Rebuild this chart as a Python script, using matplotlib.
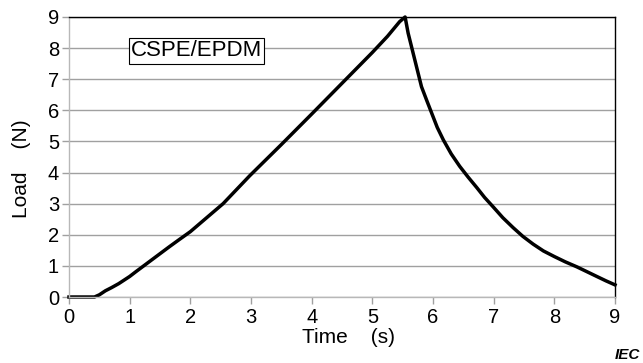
import matplotlib.pyplot as plt

plt.rcParams['font.family'] = ['Liberation Sans', 'DejaVu Sans']

# (rise, peak, relaxation)
time_s = [0.0, 0.2, 0.42, 0.5, 0.6, 0.7, 0.82, 1.0, 1.1, 1.32, 1.65, 1.82,
          2.0, 2.27, 2.54, 2.76, 2.98, 3.5, 4.0, 4.5, 5.0, 5.25, 5.45, 5.54,
          5.59, 5.7, 5.81, 5.9, 5.98, 6.07, 6.17, 6.3, 6.44, 6.58, 6.72,
          6.85, 6.99, 7.15, 7.32, 7.48, 7.65, 7.82, 8.0, 8.18, 8.37, 8.53,
          8.7, 8.85, 9.0]
load_n = [0.0, 0.0, 0.0, 0.07, 0.2, 0.3, 0.43, 0.66, 0.81, 1.13, 1.61, 1.85,
          2.1, 2.55, 3.0, 3.45, 3.9, 4.9, 5.88, 6.87, 7.86, 8.38, 8.85, 9.0,
          8.48, 7.62, 6.76, 6.3, 5.9, 5.45, 5.05, 4.6, 4.2, 3.85, 3.52,
          3.2, 2.9, 2.55, 2.23, 1.95, 1.7, 1.48, 1.3, 1.13, 0.97, 0.82,
          0.66, 0.52, 0.39]

fig = plt.figure(figsize=(6.43, 3.63), dpi=100)
ax = fig.add_axes([0.1073, 0.1818, 0.8492, 0.7714])

ax.plot(time_s, load_n, color="black", linewidth=2.5, solid_joinstyle="round",
        clip_on=False)

ax.set_xlim(0, 9)
ax.set_ylim(0, 9)
ax.set_xticks(range(10))
ax.set_yticks(range(10))
ax.yaxis.grid(True, color="#a0a0a0", linewidth=1.0)
ax.set_axisbelow(True)

for side in ["left", "bottom"]:
    ax.spines[side].set_color("#b8b8b8")
    ax.spines[side].set_linewidth(1.0)
for side in ["top", "right"]:
    ax.spines[side].set_color("black")
    ax.spines[side].set_linewidth(1.0)

ax.tick_params(axis="both", labelsize=14.5, color="#a0a0a0", length=5, width=1.0)
ax.tick_params(axis="x", pad=3)
ax.tick_params(axis="y", pad=2.2)

ax.set_xlabel("Time    (s)", fontsize=15)
ax.set_ylabel("Load    (N)", fontsize=15)
ax.xaxis.set_label_coords(0.512, -0.111)
ax.yaxis.set_label_coords(-0.0696, 0.457)

ax.text(2.1, 7.91, "CSPE/EPDM", fontsize=16, ha="center", va="center",
        bbox=dict(boxstyle="square,pad=0.1", facecolor="white",
                  edgecolor="black", linewidth=0.8))

fig.text(0.996, 0.012, "IEC", fontsize=11, style="italic", weight="bold",
         ha="right", va="baseline")

fig.savefig("out.png", dpi=100)
